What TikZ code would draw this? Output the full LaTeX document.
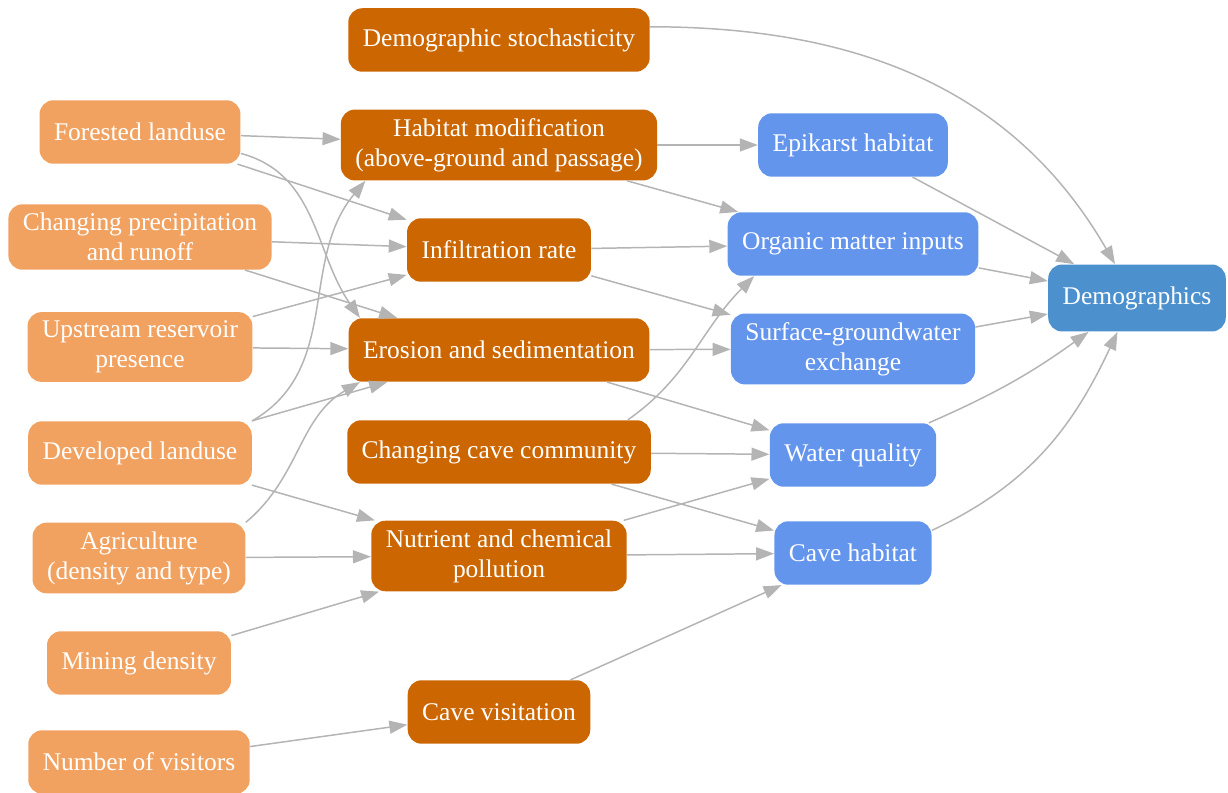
\documentclass[tikz,border=0pt]{standalone}
\usepackage{fontspec}
\setmainfont{Liberation Serif}
\usepackage{tikz}
\usetikzlibrary{arrows.meta}
\definecolor{drvcol}{RGB}{242,162,96}
\definecolor{prccol}{RGB}{204,102,0}
\definecolor{habcol}{RGB}{100,149,237}
\definecolor{demcol}{RGB}{76,144,205}
\definecolor{edgecol}{RGB}{180,180,180}
\begin{document}
\begin{tikzpicture}[x=0.02cm, y=-0.02cm, edge/.style={draw=edgecol, line width=0.85pt, -{Triangle[length=0.36cm, width=0.26cm]}}]
\tikzstyle{box}=[rounded corners=0.28cm, text=white, align=center, inner xsep=0.29cm, inner ysep=5pt, minimum height=1.27cm, font=\fontsize{14.5}{17}\selectfont]
\tikzstyle{drv}=[box, fill=drvcol]
\tikzstyle{prc}=[box, fill=prccol]
\tikzstyle{hab}=[box, fill=habcol]
\tikzstyle{dem}=[box, fill=demcol, minimum height=1.34cm]
\useasboundingbox (0,0) rectangle (1228,793);
% drivers
\node[drv] (l1) at (140,132){Forested landuse};
\node[drv] (l2) at (140,237){Changing precipitation\\and runoff};
\node[drv] (l3) at (140,347){Upstream reservoir\\presence};
\node[drv] (l4) at (140,453){Developed landuse};
\node[drv] (l5) at (139,558){Agriculture\\(density and type)};
\node[drv] (l6) at (139,663){Mining density};
\node[drv] (l7) at (139,762){Number of visitors};
% processes
\node[prc] (m1) at (499,40){Demographic stochasticity};
\node[prc] (m2) at (499,145){Habitat modification\\(above-ground and passage)};
\node[prc] (m3) at (499,250){Infiltration rate};
\node[prc] (m4) at (499,350){Erosion and sedimentation};
\node[prc] (m5) at (499,452){Changing cave community};
\node[prc] (m6) at (499,556){Nutrient and chemical\\pollution};
\node[prc] (m7) at (499,712){Cave visitation};
% habitat
\node[hab] (r1) at (853,145){Epikarst habitat};
\node[hab] (r2) at (853,244){Organic matter inputs};
\node[hab] (r3) at (853,349){Surface-groundwater\\exchange};
\node[hab] (r4) at (853,455){Water quality};
\node[hab] (r5) at (853,553){Cave habitat};
\node[dem] (d) at (1137,298){Demographics};
\foreach \i/\j in {l1/m2, l1/m3, l2/m3, l2/m4, l3/m3, l3/m4, l4/m4, l4/m6, l5/m6, l6/m6, l7/m7, m2/r1, m2/r2, m3/r2, m3/r3, m4/r3, m4/r4, m5/r4, m5/r5, m6/r4, m6/r5, m7/r5, r1/d, r2/d, r3/d}{
\draw[edge] (\i) -- (\j);
}
\draw[edge] (l1.-12) to[out=-15, in=125] (m4.167);
\draw[edge] (l4.north east) to[out=30, in=-130] (m2.195);
\draw[edge] (l5.north east) to[out=40, in=-150] (m4.193);
\draw[edge] (m5.14) to[out=35, in=-135] (r2.198);
\draw[edge] (m1.5) to[out=0, in=120] (d.123);
\draw[edge] (r4) to[bend right=6] (d);
\draw[edge] (r5.16) to[out=25, in=-115] (d.240);
\end{tikzpicture}
\end{document}
